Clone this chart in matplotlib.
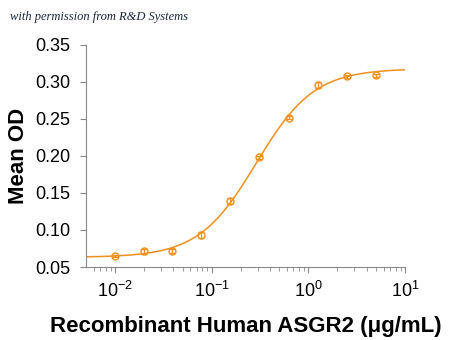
import numpy as np
import matplotlib
matplotlib.use("Agg")
import matplotlib.pyplot as plt
import matplotlib.ticker as ticker

# data
conc = [0.01, 0.02, 0.039, 0.078, 0.156, 0.3125, 0.625, 1.25, 2.5, 5.0]
mean_od = [0.065, 0.071, 0.072, 0.093, 0.139, 0.198, 0.252, 0.296, 0.308, 0.309]
err = [0.001, 0.003, 0.003, 0.004, 0.004, 0.002, 0.002, 0.004, 0.002, 0.002]

# 4PL fit parameters (bottom, top, ec50, hill)
bottom, top, ec50, hill = 0.063, 0.318, 0.29, 1.45

orange = "#F0901E"
plt.rcParams['font.family'] = ['Liberation Sans', 'DejaVu Sans']

fig = plt.figure(figsize=(4.5, 3.4), dpi=100)
ax = fig.add_axes([0.191, 0.2147, 0.709, 0.653])

xs = np.logspace(np.log10(0.005), 1, 300)
ys = bottom + (top - bottom) / (1 + (ec50 / xs) ** hill)
ax.plot(xs, ys, color=orange, lw=1.1)
ax.errorbar(conc, mean_od, yerr=err, fmt='o', mfc='none', mec=orange, ecolor=orange,
            ms=5, mew=1.0, capsize=2.5, elinewidth=0.9)

ax.set_xscale('log')
ax.set_xlim(10 ** -2.3, 10)
ax.set_ylim(0.05, 0.35)
ax.set_yticks(np.arange(0.05, 0.351, 0.05))
ax.yaxis.set_major_formatter(ticker.FormatStrFormatter('%.2f'))
ax.set_xticks([0.01, 0.1, 1, 10])
ax.set_xticklabels(['$\\mathregular{10^{-2}}$', '$\\mathregular{10^{-1}}$',
                    '$\\mathregular{10^{0}}$', '$\\mathregular{10^{1}}$'])
ax.xaxis.set_minor_locator(ticker.LogLocator(base=10, subs=np.arange(2, 10)))

for s in ['top', 'right']:
    ax.spines[s].set_visible(False)
for s in ['left', 'bottom']:
    ax.spines[s].set_color('#888888')
    ax.spines[s].set_linewidth(0.8)
ax.tick_params(axis='both', which='both', colors='#888888', labelcolor='black', labelsize=13)
ax.tick_params(axis='y', length=4, pad=7)
ax.tick_params(axis='x', which='major', length=4, pad=6)
ax.tick_params(axis='x', which='minor', length=3)

ax.set_xlabel('Recombinant Human ASGR2 (\u03bcg/mL)', fontsize=16, fontweight='bold', labelpad=11)
ax.set_ylabel('Mean OD', fontsize=16, fontweight='bold', labelpad=5)

fig.text(0.022, 0.95, 'with permission from R&D Systems', fontsize=9,
         family='Liberation Serif', style='italic', color='#1a2440', va='center')

fig.savefig('out.png', dpi=100)
